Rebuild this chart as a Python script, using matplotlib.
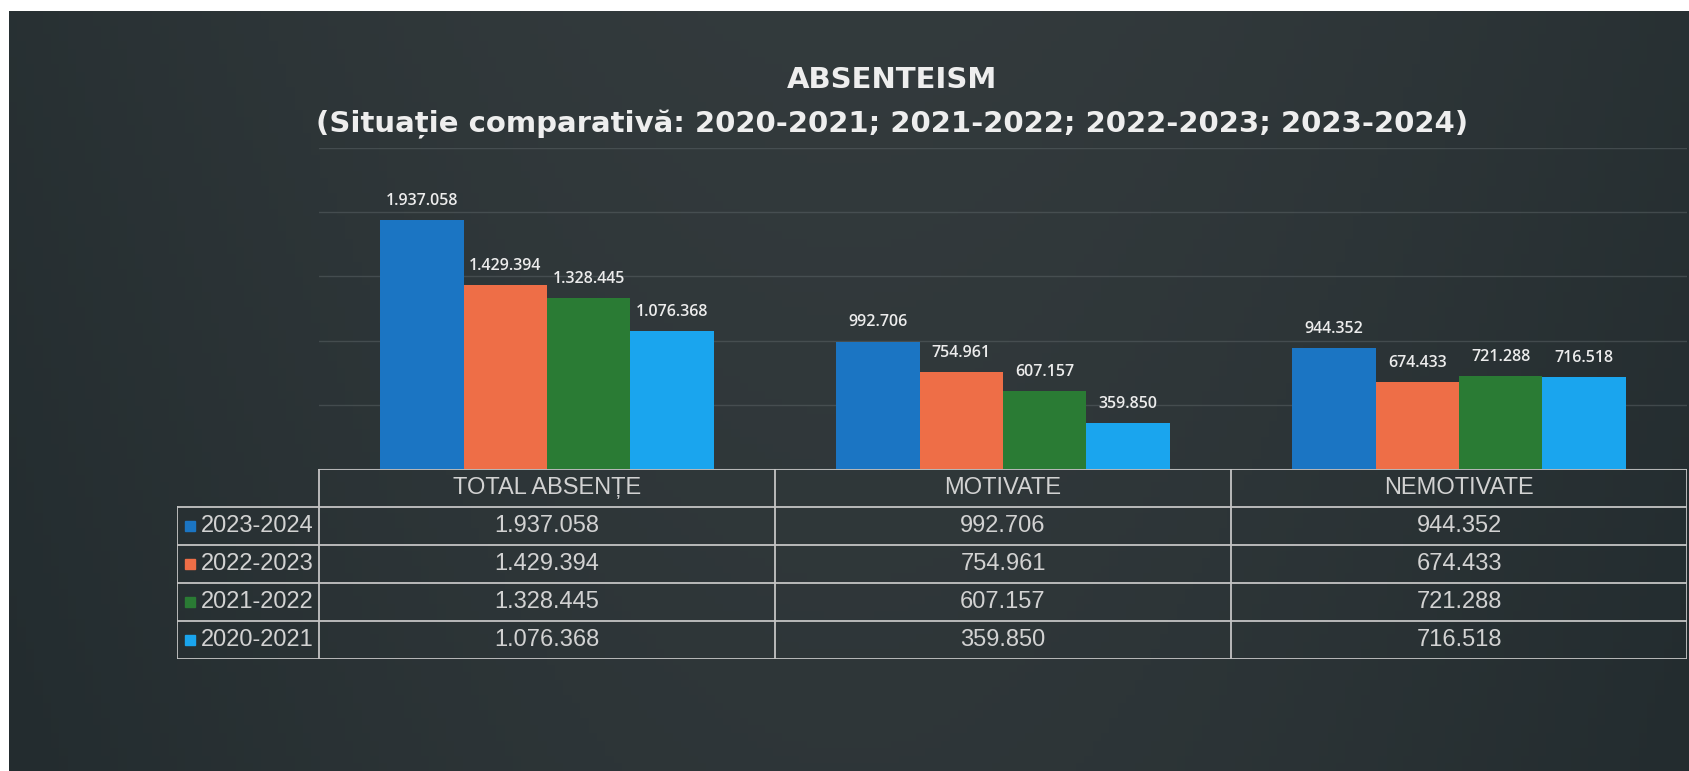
import matplotlib.pyplot as plt
import numpy as np

# Data
categories = ['TOTAL ABSENȚE', 'MOTIVATE', 'NEMOTIVATE']
years = ['2023-2024', '2022-2023', '2021-2022', '2020-2021']
v_2023_2024 = [1937058, 992706, 944352]
v_2022_2023 = [1429394, 754961, 674433]
v_2021_2022 = [1328445, 607157, 721288]
v_2020_2021 = [1076368, 359850, 716518]
series = [v_2023_2024, v_2022_2023, v_2021_2022, v_2020_2021]
colors = ['#1b75c3', '#ee6e47', '#2a7b34', '#1aa5ee']


def fmt(v):
    return f'{v:,}'.replace(',', '.')


W, H = 1689, 771
fig = plt.figure(figsize=(W / 100, H / 100), dpi=100, facecolor='white')

# dark board background
bg = fig.add_axes([9 / W, 0, 1 - 9 / W, 1 - 11 / H])
bg.axis('off')
gx = np.linspace(0, 1, 200)
gy = np.linspace(0, 1, 100)
shade = 0.55 * np.outer(np.ones_like(gy), np.sin(np.pi * gx)) + 0.25 * np.outer(gy, np.ones_like(gx))
c0 = np.array([35, 44, 47]) / 255
c1 = np.array([55, 62, 64]) / 255
img = c0 + (c1 - c0) * shade[..., None]
bg.imshow(img, aspect='auto', extent=[0, 1, 0, 1], origin='lower')
bg.set_xlim(0, 1)
bg.set_ylim(0, 1)

# titles
tkw = dict(ha='center', va='center', color='#eeeeee', fontsize=21,
           fontweight='bold', family='DejaVu Sans')
fig.text(892 / W, 1 - 80 / H, 'ABSENTEISM', **tkw)
fig.text(892 / W, 1 - 124 / H,
         '(Situație comparativă: 2020-2021; 2021-2022; 2022-2023; 2023-2024)', **tkw)

# bar area
left, right = 319 / W, 1687 / W
bottom, top = 1 - 469 / H, 1 - 148 / H
ax = fig.add_axes([left, bottom, right - left, top - bottom])
ax.set_facecolor('none')
for s in ax.spines.values():
    s.set_visible(False)
ax.set_xticks([])
ax.set_yticks(np.arange(0, 2500001, 500000))
ax.tick_params(axis='y', length=0, labelleft=False)
ax.grid(axis='y', color='#5c6467', linewidth=1, alpha=0.5)
ax.set_axisbelow(True)
ax.set_xlim(-0.5, 2.5)
ax.set_ylim(0, 2500000)

x = np.arange(len(categories))
width = 0.1826
for i, (vals, col) in enumerate(zip(series, colors)):
    bars = ax.bar(x + (i - 1.5) * width, vals, width, color=col, edgecolor='none')
    for bar, v in zip(bars, vals):
        ax.annotate(fmt(v), xy=(bar.get_x() + bar.get_width() / 2, bar.get_height()),
                    xytext=(0, 8), textcoords='offset points', ha='center', va='bottom',
                    fontsize=11.5, color='#ececec', fontweight='semibold', family='Open Sans')

# data table below the bars
legend_w = (319 - 177) / 456
tb_bottom = 1 - 659 / H
tax = fig.add_axes([177 / W, tb_bottom, right - 177 / W, bottom - tb_bottom])
tax.axis('off')
tax.set_xlim(-0.5 - legend_w, 2.5)
tax.set_ylim(5, 0)
lc = '#c4c4c4'
lw = 1.3
x0 = -0.5 - legend_w
tax.plot([-0.5, 2.5], [0, 0], color=lc, lw=lw)
for r in range(1, 6):
    tax.plot([x0, 2.5], [r, r], color=lc, lw=lw)
tax.plot([x0, x0], [1, 5], color=lc, lw=lw)
for b in [-0.5, 0.5, 1.5, 2.5]:
    tax.plot([b, b], [0, 5], color=lc, lw=lw)

tfont = dict(family=['Liberation Sans Narrow', 'Liberation Sans'], fontsize=17, color='#d2d2d2')
for j, cat in enumerate(categories):
    tax.text(j, 0.5, cat, ha='center', va='center', **tfont)
for i, (yr, vals, col) in enumerate(zip(years, series, colors)):
    r = i + 1.5
    tax.plot([x0 + 0.028], [r], marker='s', markersize=7.5, color=col, linestyle='none')
    tax.text(x0 + 0.052, r, yr, ha='left', va='center', **tfont)
    for j, v in enumerate(vals):
        tax.text(j, r, fmt(v), ha='center', va='center', **tfont)

plt.savefig('out.png', dpi=100, facecolor='white')
